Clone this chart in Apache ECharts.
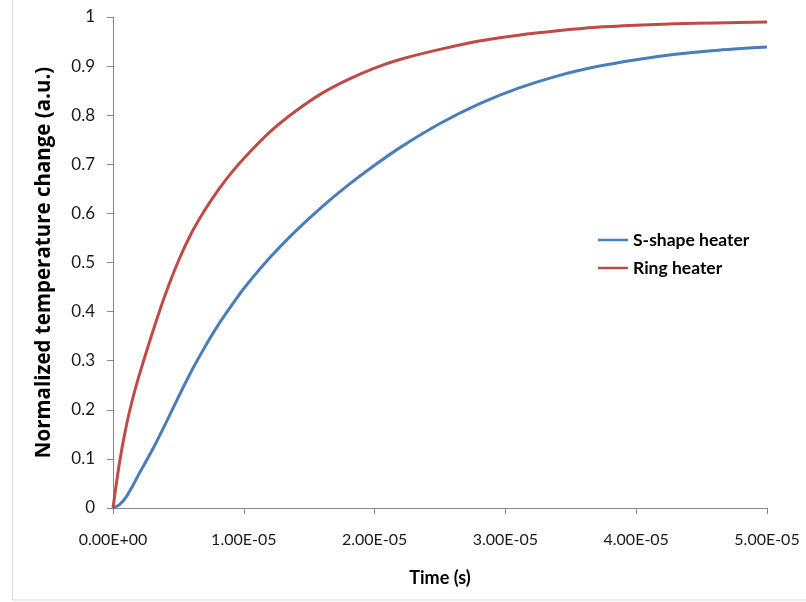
<!DOCTYPE html>
<html>
<head>
<meta charset="utf-8">
<script src="https://cdn.jsdelivr.net/npm/echarts@6/dist/echarts.min.js"></script>
<style>html,body{margin:0;padding:0;background:#fff}#c{width:806px;height:602px}</style>
</head>
<body>
<div id="c"></div>
<script>
// time in microseconds (converted to seconds below)
const timeUs = [0, 0.5, 1, 1.5, 2, 3, 4, 5, 6, 7, 8, 9, 10, 12, 14, 16, 18, 20, 22, 25, 28, 31, 34, 37, 40, 43, 46, 50];
const sShape = [0, 0.007, 0.022, 0.045, 0.07, 0.118, 0.171, 0.226, 0.279, 0.327, 0.371, 0.41, 0.447, 0.51, 0.565, 0.614, 0.658, 0.698, 0.735, 0.783, 0.823, 0.855, 0.880, 0.899, 0.913, 0.924, 0.932, 0.939];
const ring = [0, 0.093, 0.165, 0.222, 0.27, 0.356, 0.435, 0.503, 0.56, 0.606, 0.646, 0.681, 0.712, 0.766, 0.809, 0.845, 0.873, 0.896, 0.914, 0.934, 0.951, 0.963, 0.972, 0.979, 0.983, 0.986, 0.988, 0.990];
const seriesNames = ["S-shape heater", "Ring heater"];

function expFmt(v) {
  if (v === 0) return "0.00E+00";
  let s = v.toExponential(2).toUpperCase();
  const m = s.match(/^(.*)E([+-])(\d+)$/);
  return m[1] + "E" + m[2] + (m[3].length < 2 ? "0" + m[3] : m[3]);
}

const FONT = "Lato";
const chart = echarts.init(document.getElementById('c'), null, {renderer: 'canvas'});
chart.setOption({
  animation: false,
  backgroundColor: '#fff',
  graphic: [{
    type: 'rect', silent: true,
    shape: {x: 12.5, y: -10, width: 900, height: 610},
    style: {fill: 'none', stroke: '#d9d9d9', lineWidth: 1}
  }],
  grid: {left: 113, top: 17, right: 39, bottom: 94, containLabel: false},
  legend: {
    orient: 'vertical', left: 593, top: 226, itemWidth: 30, itemHeight: 14, itemGap: 10,
    icon: 'path://M0,6 L30,6 L30,8.5 L0,8.5 Z',
    textStyle: {fontFamily: FONT, fontWeight: 'bold', fontSize: 17.5, color: '#000'},
    data: seriesNames
  },
  xAxis: {
    type: 'value', min: 0, max: 5e-5, interval: 1e-5,
    name: 'Time (s)', nameLocation: 'middle', nameGap: 61,
    nameTextStyle: {fontFamily: FONT, fontWeight: 'bold', fontSize: 18, color: '#000'},
    axisLine: {show: true, lineStyle: {color: '#868686', width: 1}},
    axisTick: {show: true, length: 6, lineStyle: {color: '#868686'}},
    splitLine: {show: false},
    axisLabel: {margin: 24, fontFamily: FONT, fontSize: 16, color: '#1a1a1a', formatter: expFmt, showMinLabel: true, showMaxLabel: true}
  },
  yAxis: {
    type: 'value', min: 0, max: 1, interval: 0.1,
    name: 'Normalized temperature change (a.u.)', nameLocation: 'middle', nameGap: 58, nameRotate: 90,
    nameTextStyle: {fontFamily: 'Open Sans', fontWeight: 'bold', fontSize: 20.5, color: '#000'},
    axisLine: {show: true, lineStyle: {color: '#868686', width: 1}},
    axisTick: {show: true, length: 6, lineStyle: {color: '#868686'}},
    splitLine: {show: false},
    axisLabel: {margin: 18, fontFamily: FONT, fontSize: 17, color: '#1a1a1a', formatter: v => String(Math.round(v * 10) / 10)}
  },
  series: [
    {name: seriesNames[0], type: 'line', smooth: 0.25, showSymbol: false, symbol: 'none',
     lineStyle: {color: '#4a7ebb', width: 3}, itemStyle: {color: '#4a7ebb'},
     data: timeUs.map((t, i) => [t * 1e-6, sShape[i]])},
    {name: seriesNames[1], type: 'line', smooth: 0.25, showSymbol: false, symbol: 'none',
     lineStyle: {color: '#be4b48', width: 3}, itemStyle: {color: '#be4b48'},
     data: timeUs.map((t, i) => [t * 1e-6, ring[i]])}
  ]
});
</script>
</body>
</html>
